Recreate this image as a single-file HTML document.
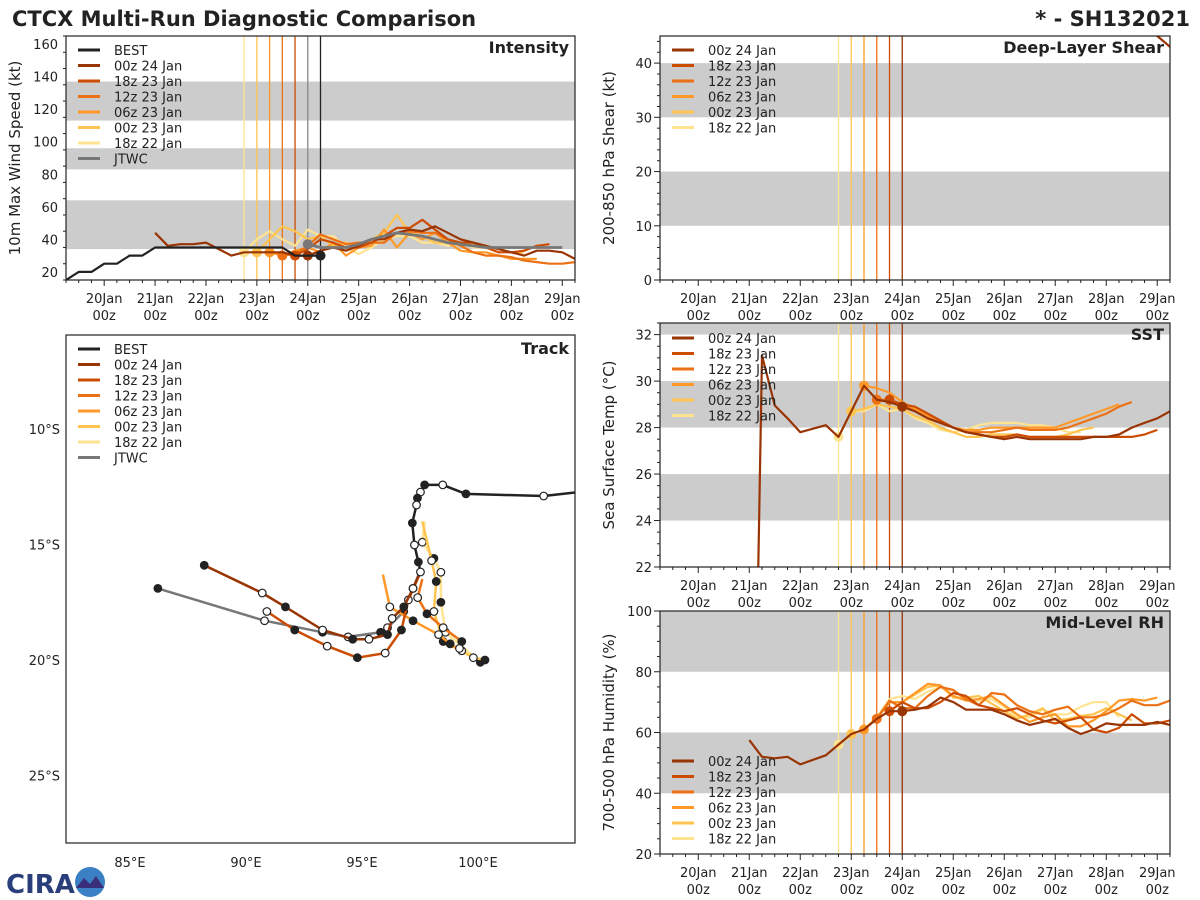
<!DOCTYPE html>
<html><head><meta charset="utf-8"><style>
html,body{margin:0;padding:0;background:#fff;overflow:hidden;width:1200px;height:900px;}
svg{display:block;}
svg text{font-family:"DejaVu Sans","Liberation Sans",sans-serif;fill:#222;}
</style></head><body>
<svg id="c" width="1200" height="900" viewBox="0 0 1200 900" xmlns="http://www.w3.org/2000/svg">
<text x="12" y="26" font-size="21" font-weight="bold">CTCX Multi-Run Diagnostic Comparison</text>
<text x="1190" y="26" font-size="21" font-weight="bold" text-anchor="end">* - SH132021</text>
<g id="logo">
<text x="6" y="893" font-size="26" font-weight="bold" style="fill:#2a3f7a">CIRA</text>
<circle cx="90" cy="882" r="15" fill="#3b7fc4"/>
<path d="M76 888 L84 878 L90 884 L96 876 L104 888 Z" fill="#3a2f7a"/>
</g>
</svg>
<script>
// ---------- DATA ----------
const runNames = ["00z 24 Jan","18z 23 Jan","12z 23 Jan","06z 23 Jan","00z 23 Jan","18z 22 Jan"];
const runColors = ["#993404","#cc4c02","#ec7014","#fe9929","#fec44f","#fee391"];
const runInit = [4.0,3.75,3.5,3.25,3.0,2.75]; // days after 20 Jan 00z
const bestStart = -0.75;
const bestInt = [15,20,20,25,25,30,30,35,35,35,35,35,35,35,35,35,35,35,30,30,30];
const jtwcStart = 4.0;
const jtwcInt = [37,35,35,35,37,40,42,44,43,42,40,38,37,36,35,35,35,35,35,35,35];
const intStart = [1.0,3.75,3.5,3.25,3.0,2.75];
const int00z24 = [44,36,37,37,38,34,30,32,32,32,32,30,30,33,35,33,36,40,40,44,46,45,48,44,40,38,36,34,32,30,33,33,32,28];
const int18z23 = [30,34,40,38,35,35,38,42,47,47,52,46,40,38,38,35,32,32,33,36,37];
const int12z23 = [30,31,36,43,40,37,38,38,38,44,45,44,44,40,36,32,30,30,29,27,26,25,25,26];
const int06z23 = [32,30,33,35,32,38,30,35,36,46,35,44,40,44,38,33,32,32,30,28,28,28];
const int00z23 = [32,40,48,45,40,42,36,38,35,40,44,55,44,42,38,38,36,37,36,34,32,32];
const int18z22 = [32,40,45,40,36,46,42,42,35,31,35,40,42,42,38,38,36,38,35,35,34];
const shrStart = [8.5];
const shr00z24 = [60,52,45,43,40];
const sstStart = [1.0,3.75,3.5,3.25,3.0,2.75];
const sst00z24 = [0,31.1,28.95,28.4,27.8,27.95,28.1,27.6,28.7,29.8,29.2,29.1,28.9,28.7,28.4,28.2,28.0,27.8,27.7,27.6,27.5,27.6,27.5,27.5,27.5,27.5,27.5,27.6,27.6,27.7,28.0,28.2,28.4,28.7];
const sst18z23 = [29.2,29.0,28.9,28.6,28.3,28.0,27.8,27.7,27.6,27.6,27.7,27.6,27.6,27.6,27.6,27.6,27.6,27.6,27.6,27.6,27.7,27.9];
const sst12z23 = [29.2,29.2,29.0,28.7,28.4,28.2,28.0,27.8,27.8,27.8,27.9,28.0,27.9,27.9,27.9,28.0,28.2,28.4,28.6,28.9,29.1];
const sst06z23 = [29.8,29.7,29.5,29.1,28.8,28.5,28.2,28.0,27.9,27.9,28.0,28.0,28.0,28.0,28.0,28.0,28.2,28.4,28.6,28.8,29.0];
const sst00z23 = [28.7,28.8,29.0,28.9,28.8,28.5,28.3,28.0,27.8,27.6,27.6,27.7,27.7,27.7,27.6,27.6,27.6,27.7,27.9,28.0];
const sst18z22 = [27.6,28.7,28.7,29.0,28.7,28.8,28.4,28.2,27.9,27.8,27.9,28.1,28.2,28.2,28.2,28.1,28.1,28.0,27.8,27.8];
const rhStart = [1.0,3.75,3.5,3.25,3.0,2.75];
const rh00z24 = [57.5,52,51.5,52,49.5,51,52.5,56,59.5,61,64.5,67,67,67.5,68.5,71.5,70,67.5,67.5,67.5,66,64,62.5,63.5,64.5,61.5,59.5,61,63,62.5,62.5,62.5,63.5,62.5];
const rh18z23 = [67,70,68,68,70,73,72,69,68,67,68,66,64,63,64,65,61,60,61.5,66,63,63,64,64.5];
const rh12z23 = [64.5,70.5,68,68,72,75,74,71,69,73,72.5,69,67,66,67.5,68.5,65,65,66,68,70.5,69,69,70.5];
const rh06z23 = [61,64.5,70,70,73,76,75.5,72,70.5,71,72,69,66,63.5,65,66,62,62,64,67,70.5,71,70.5,71.5];
const rh00z23 = [59.5,61,65,70,70,72.5,75,75.5,71.5,71.5,72,69.5,67,64.5,66,68,64,64.5,65.5,66,68,66,64];
const rh18z22 = [56,59,61,65,71,72,71,73.5,75,72,71,70.5,71,68.5,65,65,67.5,66,66,68.5,70,70,65];
// track: lon (E), lat (S)
const bestLon = [104.35,102.83,99.48,98.48,97.7,97.52,97.39,97.35,97.17,97.26,97.43,97.52];
const bestLat = [12.73,12.9,12.81,12.42,12.42,12.73,12.99,13.29,14.07,15.02,15.76,16.19];
const trkLon = [
 [97.52,97.2,96.8,96.3,96.1,95.3,94.6,93.3,91.7,90.7,88.2],
 [97.52,97.0,96.7,96.0,94.8,93.5,92.1,90.9],
 [97.6,97.4,97.8,98.5,99.3,99.2],
 [95.9,96.2,97.2,98.3,98.8,99.3],
 [97.6,98.0,98.2,98.1,98.5,99.8,100.3],
 [97.7,97.6,98.1,98.4,98.4,98.6,100.1]];
const trkLat = [
 [16.19,16.9,17.7,18.2,18.9,19.1,19.1,18.7,17.7,17.1,15.9],
 [16.19,17.4,18.7,19.7,19.9,19.4,18.7,17.9],
 [16.5,17.3,18.0,18.6,19.2,19.5],
 [16.3,17.7,18.3,18.9,19.3,19.6],
 [14.0,15.7,16.6,17.9,19.2,19.9,20.0],
 [14.0,14.9,15.6,16.2,17.5,18.8,20.1]];
const jtwcLon = [97.52,97.2,96.8,96.1,95.8,94.4,93.3,90.8,86.2];
const jtwcLat = [16.1,16.9,17.9,18.6,18.8,19.0,18.8,18.3,16.9];
const dayLabels = ["20Jan","21Jan","22Jan","23Jan","24Jan","25Jan","26Jan","27Jan","28Jan","29Jan"];
const intTicks = [20,40,60,80,100,120,140,160];
const shrTicks = [0,10,20,30,40];
const sstTicks = [22,24,26,28,30,32];
const rhTicks = [20,40,60,80,100];
const lonTicks = [85,90,95,100];
const latTicks = [10,15,20,25];

// ---------- DRAWING ----------
const svg = document.getElementById('c');
const NS = "http://www.w3.org/2000/svg";
function mk(tag, attrs, parent){const e=document.createElementNS(NS,tag);for(const k in attrs)e.setAttribute(k,attrs[k]);(parent||svg).appendChild(e);return e;}
let clipN=0;
function panel(name,x0,y0,x1,y1,vmin,vmax,bands,ticks,minor,ylabel,title,labelY,legendY,legendItems){
  const g=mk('g',{});
  
  
  const sx=d=>x0+(d+0.75)/10*(x1-x0);
  const sy=v=>y1-(v-vmin)/(vmax-vmin)*(y1-y0);
  const id='clip'+(clipN++);
  const cp=mk('clipPath',{id:id},g);mk('rect',{x:x0,y:y0,width:x1-x0,height:y1-y0},cp);
  const inner=mk('g',{'clip-path':'url(#'+id+')'},g);
  
  
  bands.forEach(b=>{const r=mk('rect',{x:x0,y:sy(b[1]),width:x1-x0,height:sy(b[0])-sy(b[1]),fill:'#cccccc'},inner);
    
    });
  for(let v=vmin;v<=vmax+1e-9;v+=minor){const big=ticks.some(t=>Math.abs(t-v)<1e-6);
    mk('line',{x1:x0-(big?6:3),x2:x0,y1:sy(v),y2:sy(v),stroke:'#222','stroke-width':1},g);}
  ticks.forEach(t=>{const tx=mk('text',{x:x0-8,y:sy(t)+5,'font-size':13,'text-anchor':'end'},g);tx.textContent=t;
    
    });
  for(let d=-0.75;d<=9.25;d+=0.25){const big=Math.abs(d-Math.round(d))<1e-6;
    mk('line',{x1:sx(d),x2:sx(d),y1:y1,y2:y1+(big?6:3),stroke:'#222','stroke-width':1},g);}
  dayLabels.forEach((l,i)=>{const a=mk('text',{x:sx(i),y:labelY,'font-size':13,'text-anchor':'middle'},g);a.textContent=l;
    
    
    const b=mk('text',{x:sx(i),y:labelY+17,'font-size':13,'text-anchor':'middle'},g);b.textContent='00z';
    
    });
  const yl=mk('text',{x:0,y:0,'font-size':15,'text-anchor':'middle',transform:`translate(${x0-46},${(y0+y1)/2}) rotate(-90)`},g);yl.textContent=ylabel;
  
  
  return {g,inner,sx,sy,x0,y0,x1,y1,legendY,legendItems,title,name};
}
function finish(p){
  mk('rect',{x:p.x0,y:p.y0,width:p.x1-p.x0,height:p.y1-p.y0,fill:'none',stroke:'#222','stroke-width':1.2},p.g);
  const t=mk('text',{x:p.x1-6,y:p.y0+17,'font-size':16,'font-weight':'bold','text-anchor':'end'},p.g);t.textContent=p.title;
  
  
  p.legendItems.forEach((it,i)=>{const y=p.legendY+i*15.5;
    const lg=mk('g',{},p.g);
    
    
    mk('line',{x1:p.x0+12,x2:p.x0+34,y1:y,y2:y,stroke:it[1],'stroke-width':3},lg);
    const tx=mk('text',{x:p.x0+48,y:y+5,'font-size':13},lg);tx.textContent=it[0];});
}
function series(p,start,vals,color,w,dot,dotIdx){
  const pts=vals.map((v,i)=>p.sx(start+i*0.25).toFixed(1)+','+p.sy(v).toFixed(1)).join(' ');
  const l=mk('polyline',{points:pts,fill:'none',stroke:color,'stroke-width':w,'stroke-linejoin':'round'},p.inner);
  
  
  if(dot){const i=dotIdx||0;const c=mk('circle',{cx:p.sx(start+i*0.25),cy:p.sy(vals[i]),r:5,fill:color},p.inner);
    
    }
}
function vlines(p,list){list.forEach(v=>{const l=mk('line',{x1:p.sx(v[0]),x2:p.sx(v[0]),y1:p.y0,y2:p.y1,stroke:v[1],'stroke-width':1.3},p.inner);
  
  });}
const runLegend=runNames.map((n,i)=>[n,runColors[i]]);
const initLines=runInit.map((d,i)=>[d,runColors[i]]).reverse();

// Intensity
const pI=panel('intensity',66,36,575,280,15,165,[[34,64],[83,96],[113,137]],intTicks,10,'10m Max Wind Speed (kt)','Intensity',303,50,
  [['BEST','#222'],...runLegend,['JTWC','#777']]);
vlines(pI,[...initLines.slice(0,5),[4.0,'#888'],[4.25,'#222']]);
const intVals=[int00z24,int18z23,int12z23,int06z23,int00z23,int18z22];
for(let i=5;i>=0;i--) series(pI,intStart[i],intVals[i],runColors[i],2.2,true,i==0?12:0);
series(pI,jtwcStart,jtwcInt,'#777',2.8,true,0);
series(pI,bestStart,bestInt,'#222',2.2,true,bestInt.length-1);
finish(pI);

// Shear
const pS=panel('shear',660,36,1170,280,0,45,[[10,20],[30,40]],shrTicks,2,'200-850 hPa Shear (kt)','Deep-Layer Shear',303,50,runLegend);
vlines(pS,initLines);
series(pS,shrStart[0],shr00z24,runColors[0],2.2,false);
finish(pS);

// SST
const pT=panel('sst',660,323,1170,567,22,32.5,[[24,26],[28,30],[32,33]],sstTicks,0.5,'Sea Surface Temp (°C)','SST',590,338,runLegend);
vlines(pT,initLines);
const sstVals=[sst00z24,sst18z23,sst12z23,sst06z23,sst00z23,sst18z22];
for(let i=5;i>=0;i--) series(pT,sstStart[i],sstVals[i],runColors[i],2.2,true,i==0?12:0);
finish(pT);

// RH
const pR=panel('rh',660,611,1170,854,20,100,[[40,60],[80,100]],rhTicks,5,'700-500 hPa Humidity (%)','Mid-Level RH',877,761,runLegend);
vlines(pR,initLines);
const rhVals=[rh00z24,rh18z23,rh12z23,rh06z23,rh00z23,rh18z22];
for(let i=5;i>=0;i--) series(pR,rhStart[i],rhVals[i],runColors[i],2.2,true,i==0?12:0);
finish(pR);

// Track
(function(){
  const x0=66,y0=335,x1=575,y1=843;
  const g=mk('g',{});
  
  
  const lx=lon=>478+(lon-100)*23.2;
  const ly=lat=>429+(lat-10)*23.1;
  lonTicks.forEach(l=>{const t=mk('text',{x:lx(l),y:867,'font-size':13,'text-anchor':'middle'},g);t.textContent=l+'°E';
    
    });
  latTicks.forEach(l=>{const t=mk('text',{x:x0-6,y:ly(l)+5,'font-size':13,'text-anchor':'end'},g);t.textContent=l+'°S';
    
    });
  const cp=mk('clipPath',{id:'trkclip'},g);mk('rect',{x:x0,y:y0,width:x1-x0,height:y1-y0},cp);
  const inner=mk('g',{'clip-path':'url(#trkclip)'},g);
  function trk(lons,lats,color,w){
    const pts=lons.map((lo,i)=>lx(lo).toFixed(1)+','+ly(lats[i]).toFixed(1)).join(' ');
    const l=mk('polyline',{points:pts,fill:'none',stroke:color,'stroke-width':w,'stroke-linejoin':'round'},inner);
    
    
    lons.forEach((lo,i)=>{if(i==0&&color!='#222')return;
      const c=mk('circle',{cx:lx(lo),cy:ly(lats[i]),r:3.8,fill:i%2?'#fff':'#222',stroke:'#222','stroke-width':1.2},inner);
      
      });
  }
  trk(jtwcLon,jtwcLat,'#777',2.5);
  for(let i=5;i>=0;i--) trk(trkLon[i],trkLat[i],runColors[i],2.5);
  trk(bestLon,bestLat,'#222',2.5);
  mk('rect',{x:x0,y:y0,width:x1-x0,height:y1-y0,fill:'none',stroke:'#222','stroke-width':1.2},g);
  const t=mk('text',{x:x1-6,y:y0+19,'font-size':16,'font-weight':'bold','text-anchor':'end'},g);t.textContent='Track';
  
  
  [['BEST','#222'],...runLegend,['JTWC','#777']].forEach((it,i)=>{const y=349+i*15.5;
    const lg=mk('g',{},g);
    
    
    mk('line',{x1:x0+12,x2:x0+34,y1:y,y2:y,stroke:it[1],'stroke-width':3},lg);
    const tx=mk('text',{x:x0+48,y:y+5,'font-size':13},lg);tx.textContent=it[0];});
})();
</script>
</body></html>
